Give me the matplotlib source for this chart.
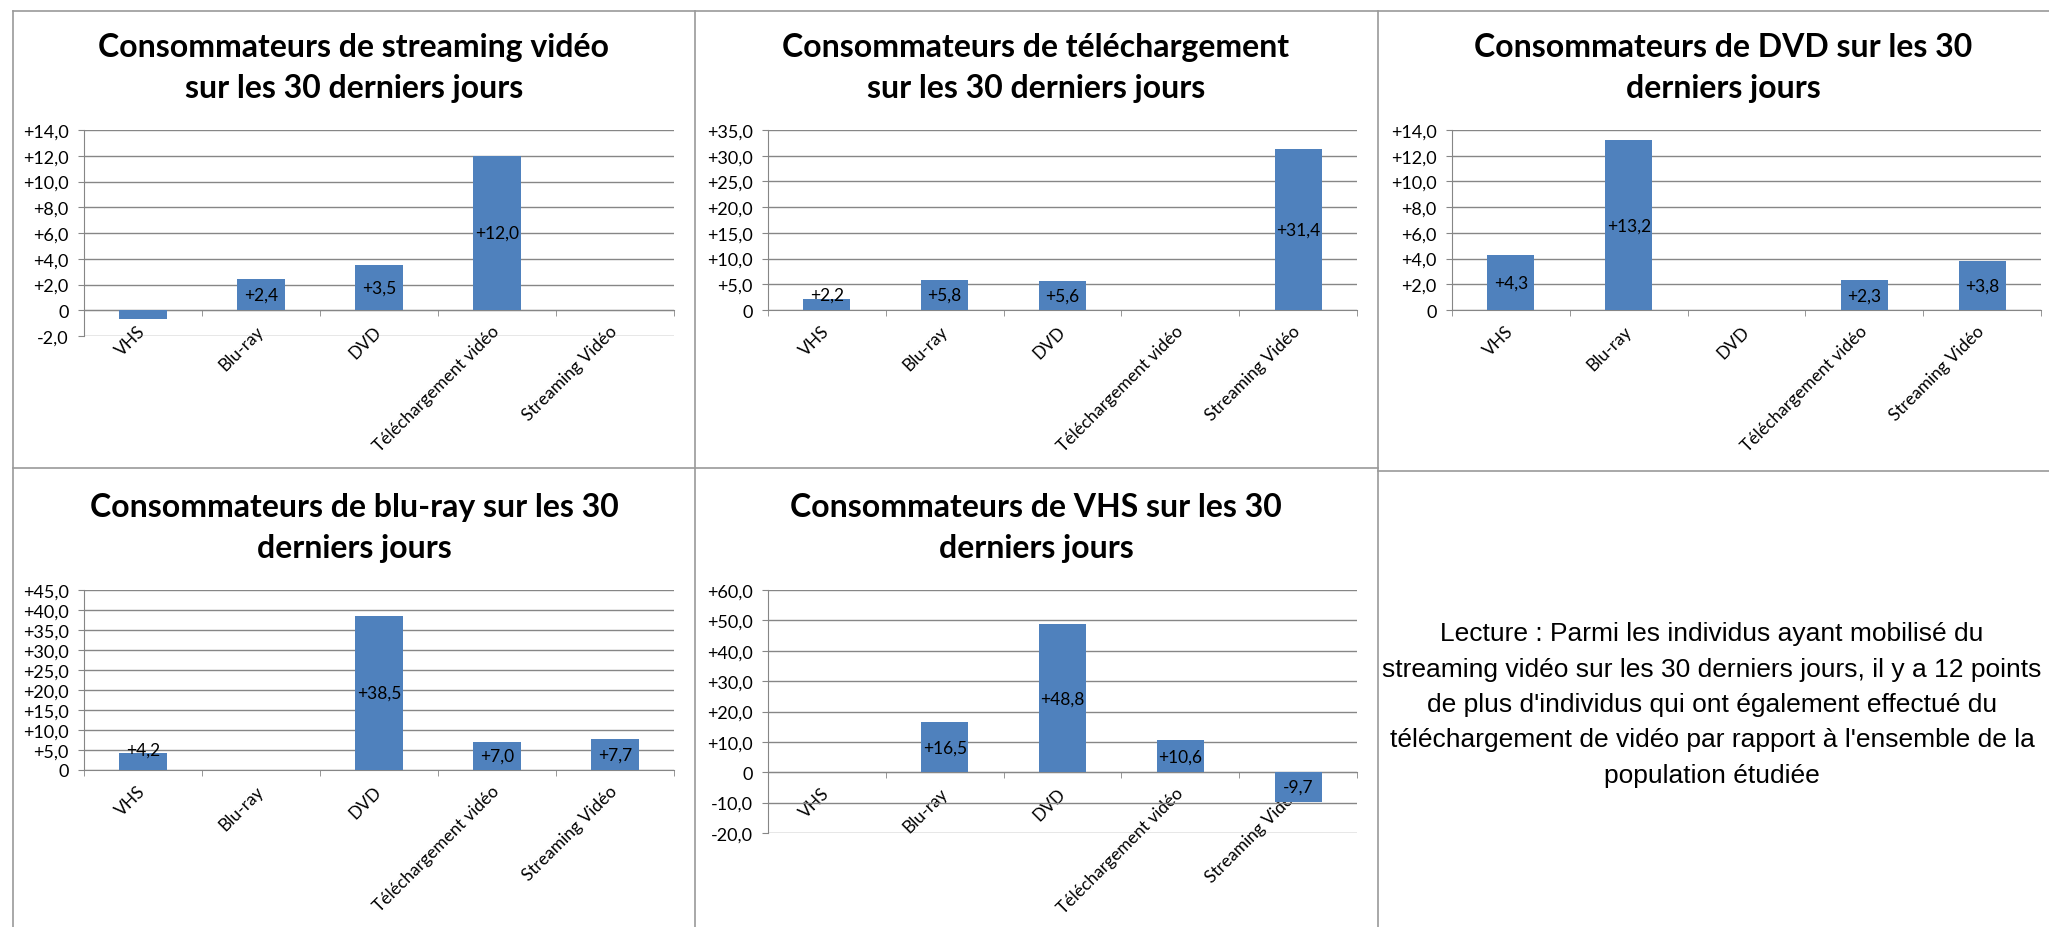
import numpy as np
import matplotlib
matplotlib.use('Agg')
import matplotlib.pyplot as plt
from matplotlib.lines import Line2D
from matplotlib.ticker import FuncFormatter, FixedLocator

categories = ['VHS', 'Blu-ray', 'DVD', 'Téléchargement vidéo', 'Streaming Vidéo']

# ecarts en points par rapport a l'ensemble de la population (None = categorie elle-meme)
streaming_vals = [-0.7, 2.4, 3.5, 12.0, None]
telechargement_vals = [2.2, 5.8, 5.6, None, 31.4]
dvd_vals = [4.3, 13.2, None, 2.3, 3.8]
bluray_vals = [4.2, None, 38.5, 7.0, 7.7]
vhs_vals = [None, 16.5, 48.8, 10.6, -9.7]

titles = ['Consommateurs de streaming vidéo\nsur les 30 derniers jours',
          'Consommateurs de téléchargement\nsur les 30 derniers jours',
          'Consommateurs de DVD sur les 30\nderniers jours',
          'Consommateurs de blu-ray sur les 30\nderniers jours',
          'Consommateurs de VHS sur les 30\nderniers jours']

note = ("Lecture : Parmi les individus ayant mobilisé du\n"
        "streaming vidéo sur les 30 derniers jours, il y a 12 points\n"
        "de plus d'individus qui ont également effectué du\n"
        "téléchargement de vidéo par rapport à l'ensemble de la\n"
        "population étudiée")

bar_color = '#4F81BD'
grey = '#868686'
W, H = 2049, 928

# (values, ymin, ymax, step, axes box in px: left, top, right, bottom, title centre x, title y)
panels = [
    (streaming_vals, -2, 14, 2, (84, 131, 674, 337), 354, 68),
    (telechargement_vals, 0, 35, 5, (768, 131, 1357, 311), 1036, 68),
    (dvd_vals, 0, 14, 2, (1452, 131, 2041, 311), 1723, 68),
    (bluray_vals, 0, 45, 5, (84, 591, 674, 771), 354, 528),
    (vhs_vals, -20, 60, 10, (768, 591, 1357, 834), 1036, 528),
]
hidden_labels = [(0, 0)]  # pas d'etiquette affichee pour VHS dans le 1er graphique

def fmt(v, pos=None):
    if abs(v) < 1e-9:
        return '0'
    return ('%+.1f' % v).replace('.', ',')

plt.rcParams['font.family'] = ['Lato', 'DejaVu Sans']

fig = plt.figure(figsize=(W / 100, H / 100), dpi=100)

for p, (vals, ymin, ymax, step, box, tx, ty) in enumerate(panels):
    l, t, r, b = box
    ax = fig.add_axes([l / W, 1 - b / H, (r - l) / W, (b - t) / H])
    y = np.array([np.nan if v is None else v for v in vals], dtype=float)
    x = np.arange(len(categories))
    ax.bar(x, y, width=0.4, color=bar_color, zorder=3)

    ax.set_xlim(-0.5, len(categories) - 0.5)
    ax.set_ylim(ymin, ymax)
    ax.yaxis.set_major_locator(FixedLocator(np.arange(ymin, ymax + step / 2, step)))
    ax.yaxis.set_major_formatter(FuncFormatter(fmt))
    ax.yaxis.grid(True, color=grey, lw=1.0)
    ax.set_axisbelow(True)

    for s in ['top', 'right']:
        ax.spines[s].set_visible(False)
    ax.spines['left'].set_color(grey)
    ax.spines['bottom'].set_color(grey)
    ax.spines['bottom'].set_position(('data', 0))

    ax.tick_params(axis='y', length=4, color=grey, labelsize=13, pad=7)
    ax.set_xticks(x)
    ax.set_xticklabels(categories, rotation=45, ha='right', va='center',
                       rotation_mode='anchor', fontsize=12.5)
    ax.set_xticks(np.arange(-0.5, len(categories), 1), minor=True)
    ax.tick_params(axis='x', which='major', length=0, pad=13)
    ax.tick_params(axis='x', which='minor', length=4, color=grey)

    rng = ymax - ymin
    for i, v in enumerate(vals):
        if v is None or (p, i) in hidden_labels:
            continue
        ly = v / 2 if abs(v) > 0.1 * rng else v + 0.02 * rng
        ax.text(i, ly, fmt(v), ha='center', va='center', fontsize=12.5, zorder=4)

    fig.text(tx / W, 1 - ty / H, titles[p], ha='center', va='center',
             fontsize=23, fontweight='bold', linespacing=1.5)

fig.text(1712 / W, 1 - 705 / H, note, ha='center', va='center',
         fontsize=19, family=['Liberation Sans', 'DejaVu Sans'], linespacing=1.6)

# cadres des graphiques
border = dict(color='#9a9a9a', lw=1.2)
fig.add_artist(Line2D([13 / W, 1], [1 - 12 / H, 1 - 12 / H], **border))
fig.add_artist(Line2D([13 / W, 13 / W], [0, 1 - 12 / H], **border))
fig.add_artist(Line2D([695 / W, 695 / W], [0, 1 - 12 / H], **border))
fig.add_artist(Line2D([1378 / W, 1378 / W], [0, 1 - 12 / H], **border))
fig.add_artist(Line2D([13 / W, 1378 / W], [1 - 469 / H, 1 - 469 / H], **border))
fig.add_artist(Line2D([1378 / W, 1], [1 - 472 / H, 1 - 472 / H], **border))

fig.savefig('out.png', dpi=100)
